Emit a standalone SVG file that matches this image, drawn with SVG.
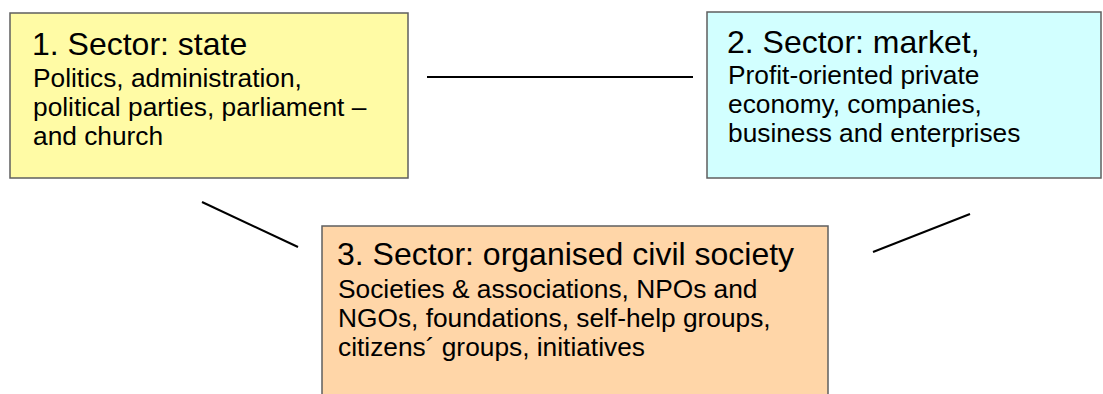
<svg xmlns="http://www.w3.org/2000/svg" width="1103" height="394" viewBox="0 0 1103 394">
<style>
.box{stroke:#5f5f5f;stroke-width:1.5}
.t{font-family:"Liberation Sans",Arial,sans-serif;font-size:32px;fill:#000}
.b{font-family:"Liberation Sans",Arial,sans-serif;font-size:26.3px;fill:#000}
.ln{stroke:#000;stroke-width:2;fill:none}
</style>
<rect width="1103" height="394" fill="#fff"/>
<g id="connectors">
<line class="ln" x1="427" y1="77" x2="693" y2="77"/>
<line class="ln" x1="202" y1="202" x2="298" y2="247"/>
<line class="ln" x1="873" y1="252" x2="970" y2="214"/>
</g>
<g id="node-state">
<rect class="box" x="10" y="13" width="398" height="165" fill="#FFFBA5"/>
<text class="t" x="32" y="55">1. Sector: state</text>
<text class="b" x="33" y="87">Politics, administration,</text>
<text class="b" x="33" y="116">political parties, parliament –</text>
<text class="b" x="33" y="145">and church</text>
</g>
<g id="node-market">
<rect class="box" x="707" y="12" width="394" height="166" fill="#D2FFFF"/>
<text class="t" x="727" y="53">2. Sector: market,</text>
<text class="b" x="728" y="84">Profit-oriented private</text>
<text class="b" x="728" y="113">economy, companies,</text>
<text class="b" x="728" y="142">business and enterprises</text>
</g>
<g id="node-civil">
<rect class="box" x="322" y="226" width="506" height="180" fill="#FFD6A8"/>
<text class="t" x="337" y="265">3. Sector: organised civil society</text>
<text class="b" x="338" y="298">Societies &amp; associations, NPOs and</text>
<text class="b" x="338" y="327">NGOs, foundations, self-help groups,</text>
<text class="b" x="338" y="356">citizens´ groups, initiatives</text>
</g>
</svg>
